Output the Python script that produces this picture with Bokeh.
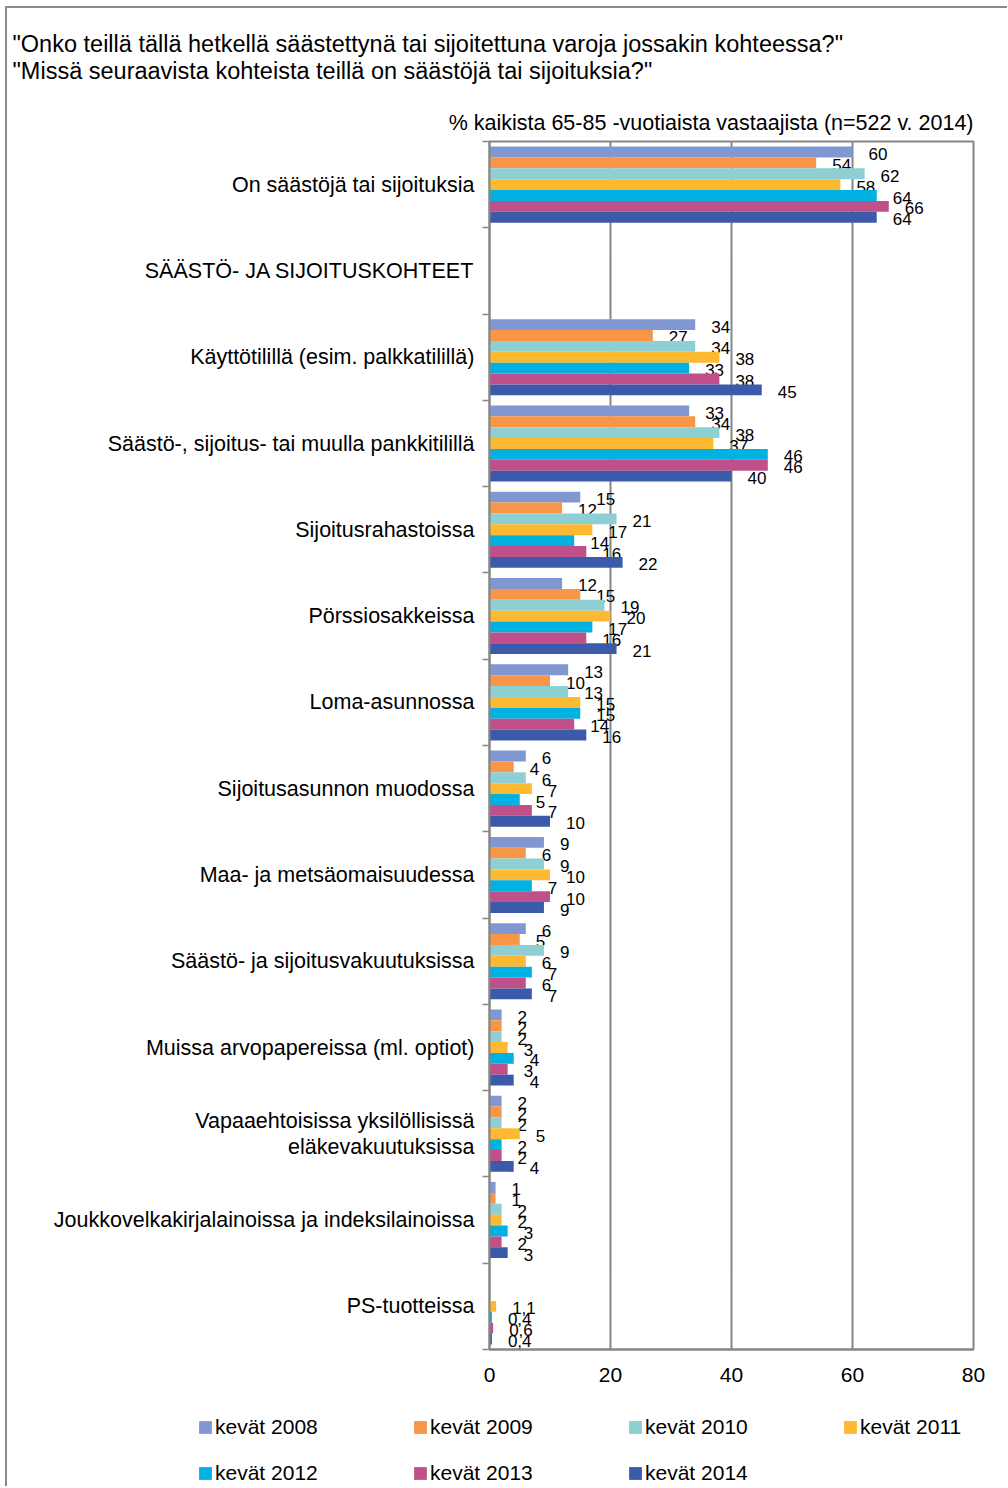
from bokeh.plotting import figure
from bokeh.layouts import column
from bokeh.models import Range1d, FixedTicker, Title, Legend, LegendItem, ColumnDataSource
from bokeh.core.properties import value
from bokeh.embed import file_html
from bokeh.resources import INLINE

categories = [
    "On säästöjä tai sijoituksia",
    "SÄÄSTÖ- JA SIJOITUSKOHTEET",
    "Käyttötilillä (esim. palkkatilillä)",
    "Säästö-, sijoitus- tai muulla pankkitilillä",
    "Sijoitusrahastoissa",
    "Pörssiosakkeissa",
    "Loma-asunnossa",
    "Sijoitusasunnon muodossa",
    "Maa- ja metsäomaisuudessa",
    "Säästö- ja sijoitusvakuutuksissa",
    "Muissa arvopapereissa (ml. optiot)",
    "Vapaaehtoisissa yksilöllisissä\neläkevakuutuksissa",
    "Joukkovelkakirjalainoissa ja indeksilainoissa",
    "PS-tuotteissa",
]

series_names = ["kevät 2008", "kevät 2009", "kevät 2010", "kevät 2011",
                "kevät 2012", "kevät 2013", "kevät 2014"]

v2008 = [60, None, 34, 33, 15, 12, 13, 6, 9, 6, 2, 2, 1, None]
v2009 = [54, None, 27, 34, 12, 15, 10, 4, 6, 5, 2, 2, 1, None]
v2010 = [62, None, 34, 38, 21, 19, 13, 6, 9, 9, 2, 2, 2, None]
v2011 = [58, None, 38, 37, 17, 20, 15, 7, 10, 6, 3, 5, 2, 1.1]
v2012 = [64, None, 33, 46, 14, 17, 15, 5, 7, 7, 4, 2, 3, 0.4]
v2013 = [66, None, 38, 46, 16, 16, 14, 7, 10, 6, 3, 2, 2, 0.6]
v2014 = [64, None, 45, 40, 22, 21, 16, 10, 9, 7, 4, 4, 3, 0.4]
series_values = [v2008, v2009, v2010, v2011, v2012, v2013, v2014]

colors = ["#8097d2", "#f79646", "#8ecfd3", "#fdb931", "#00b1e1", "#c0508a", "#3b5aa9"]

x_ticks = [0, 20, 40, 60, 80]

title_line1 = '"Onko teillä tällä hetkellä säästettynä tai sijoitettuna varoja jossakin kohteessa?"'
title_line2 = '"Missä seuraavista kohteista teillä on säästöjä tai sijoituksia?"'
subtitle = "% kaikista 65-85 -vuotiaista vastaajista (n=522 v. 2014)"

FONT = "Liberation Sans"
GRAY = "#868686"
BAR_H = 0.126

p = figure(width=1000, height=1392, output_backend="svg", toolbar_location=None,
           x_range=Range1d(0, 80), y_range=Range1d(13.5, -0.5),
           min_border_left=482, min_border_right=34, min_border_top=133,
           min_border_bottom=51, title=None)

p.outline_line_color = GRAY
p.outline_line_width = 2

# bars and labels
n = len(series_values)
for j, vals in enumerate(series_values):
    ys, xs, labs = [], [], []
    for i, v in enumerate(vals):
        if v is None:
            continue
        ys.append(i + (j - (n - 1) / 2) * BAR_H)
        xs.append(v)
        labs.append(str(v).replace(".", ",") if isinstance(v, float) else str(v))
    src = ColumnDataSource(dict(y=ys, right=xs, label=labs))
    p.hbar(y="y", left=0, right="right", height=BAR_H, source=src,
           fill_color=colors[j], line_color=None)
    p.text(x="right", y="y", text="label", source=src, x_offset=16, y_offset=2,
           text_align="left", text_baseline="middle",
           text_font=value(FONT), text_font_size="17px", text_color="black")

# axes
p.xaxis.ticker = FixedTicker(ticks=x_ticks)
p.xaxis.major_tick_out = 0
p.xaxis.major_tick_in = 0
p.xaxis.minor_tick_out = 0
p.xaxis.minor_tick_in = 0
p.xaxis.axis_line_color = GRAY
p.xaxis.axis_line_width = 2
p.xaxis.major_label_text_font = FONT
p.xaxis.major_label_text_font_size = "21px"
p.xaxis.major_label_text_color = "black"
p.xaxis.major_label_standoff = 18

p.yaxis.ticker = FixedTicker(ticks=list(range(len(categories))),
                             minor_ticks=[i - 0.5 for i in range(len(categories) + 1)])
p.yaxis.major_label_overrides = {i: c for i, c in enumerate(categories)}
p.yaxis.major_tick_out = 0
p.yaxis.major_tick_in = 0
p.yaxis.minor_tick_out = 7
p.yaxis.minor_tick_in = 0
p.yaxis.minor_tick_line_color = GRAY
p.yaxis.minor_tick_line_width = 1.5
p.yaxis.axis_line_color = GRAY
p.yaxis.axis_line_width = 2
p.yaxis.major_label_text_font = FONT
p.yaxis.major_label_text_font_size = "21.5px"
p.yaxis.major_label_text_color = "black"
p.yaxis.major_label_text_line_height = 1.1
p.yaxis.major_label_standoff = 8

p.xgrid.ticker = FixedTicker(ticks=x_ticks)
p.xgrid.grid_line_color = GRAY
p.xgrid.grid_line_width = 2
p.ygrid.grid_line_color = None

# titles
sub = Title(text=subtitle, align="right", text_font=FONT, text_font_size="21.5px",
            text_font_style="normal", text_color="black", standoff=14)
head = Title(text=title_line1 + "\n" + title_line2, align="left", offset=-477,
             text_font=FONT, text_font_size="23.5px", text_font_style="normal",
             text_color="black", text_line_height=1.07, standoff=34)
p.add_layout(sub, "above")
p.add_layout(head, "above")

# legend (in its own strip below the chart)
lg = figure(width=1000, height=86, output_backend="svg", toolbar_location=None,
            x_range=Range1d(0, 1), y_range=Range1d(0, 1),
            x_axis_type=None, y_axis_type=None, min_border=0, title=None)
lg.frame_align = False
lg.outline_line_color = None
nan = float("nan")
lg_renderers = [lg.hbar(y=[nan], right=[nan], height=0.1, fill_color=c, line_color=None)
                for c in colors]
legend = Legend(items=[LegendItem(label=nm, renderers=[r]) for nm, r in zip(series_names, lg_renderers)],
                orientation="horizontal", ncols=4, location=(190, 1),
                glyph_width=16, glyph_height=16, label_standoff=2, label_width=175,
                label_height=20, spacing=22, padding=0, margin=0,
                border_line_color=None, background_fill_alpha=0,
                label_text_font=FONT, label_text_font_size="21px",
                label_text_color="black")
lg.add_layout(legend)

layout = column(p, lg, styles={"border-left": "2px solid #8a8a8a",
                               "border-top": "2px solid #8a8a8a",
                               "margin-left": "5px", "margin-top": "6px"})

open("out.html", "w").write(file_html(layout, INLINE))
